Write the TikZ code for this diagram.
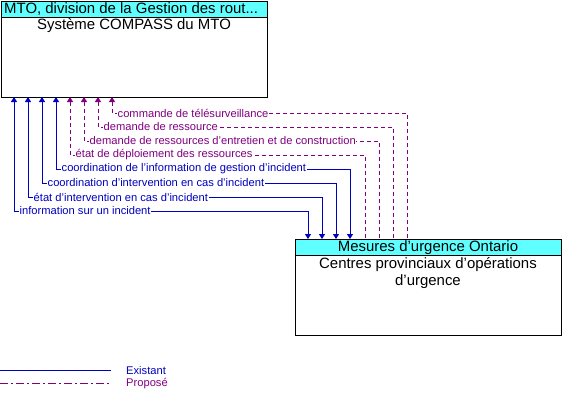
\documentclass[tikz,border=0pt]{standalone}
\usepackage{fontspec}
\setmainfont{Liberation Sans}
\usetikzlibrary{arrows.meta,calc}
\definecolor{exblue}{RGB}{0,0,192}
\definecolor{prpurple}{RGB}{128,0,128}
\definecolor{hdrcyan}{RGB}{96,255,255}
\begin{document}
\begin{tikzpicture}[x=1bp,y=-1bp,
 box/.style={draw=black,line width=1bp,fill=white,minimum width=266bp,minimum height=96bp,anchor=north west,inner sep=0pt,outer sep=0pt},
 hdr/.style={draw=black,line width=1bp,fill=hdrcyan,minimum width=266bp,minimum height=16bp,anchor=north west,inner sep=0pt,outer sep=0pt},
 boxtxt/.style={font=\fontsize{15}{17}\selectfont,align=center,inner sep=0pt},
 lbl/.style={font=\fontsize{11.2}{13}\selectfont,fill=white,inner sep=0.5bp,anchor=west},
 exist/.style={draw=exblue,line width=1bp,{Triangle[width=6bp,length=5bp]}-{Triangle[width=6bp,length=5bp]}},
 prop/.style={draw=prpurple,line width=1bp,dash pattern=on 4bp off 3bp,{Triangle[width=6bp,length=5bp]}-},
 legtxt/.style={font=\fontsize{11.2}{13}\selectfont,anchor=west,inner sep=0pt},
]
\useasboundingbox (0,0) rectangle (572,403);
% top box
\node[box] (mto) at (1,1) {};
\node[hdr] (mtoh) at (1,1) {};
\node[boxtxt,anchor=west] (mtoht) at (4,9.5) {MTO, division de la Gestion des rout...};
\node[boxtxt] (mtob) at (134,25.5) {Système COMPASS du MTO};
% bottom box
\node[box] (cpo) at (295,239) {};
\node[hdr] (cpoh) at (295,239) {};
\node[boxtxt] (cpoht) at (428,247.5) {Mesures d'urgence Ontario};
\node[boxtxt] (cpob) at (428,273) {Centres provinciaux d'opérations\\[0pt]d'urgence};
% connector end points
\foreach \i/\ax/\bx in {0/13/13,1/27/27,2/41/41,3/55/55,4/69/70,5/83/84,6/97/98,7/111/112}{
  \coordinate (a\i) at ($(mto.south west)+(\ax,0)$);
  \coordinate (b\i) at ($(cpo.north west)+(\bx,0)$);
}
% existing flows
\foreach \i/\yy/\t in {0/211/information sur un incident,
                       1/197/état d'intervention en cas d'incident,
                       2/183/coordination d'intervention en cas d'incident,
                       3/169/coordination de l'information de gestion d'incident}{
  \draw[exist] (a\i) -- (a\i |- 0,\yy) -| (b\i);
  \node[lbl,text=exblue] (l\i) at ($(a\i |- 0,\yy)+(5,0)$) {\t};
}
% proposed flows
\foreach \i/\yy/\t in {4/155/état de déploiement des ressources,
                       5/141/demande de ressources d'entretien et de construction,
                       6/127/demande de ressource,
                       7/113/commande de télésurveillance}{
  \draw[prop] (a\i) -- (a\i |- 0,\yy) -| (b\i);
  \node[lbl,text=prpurple] (l\i) at ($(a\i |- 0,\yy)+(5,0)$) {\t};
}
% legend
\coordinate (e1) at (0,370);
\coordinate (e2) at (111,370);
\coordinate (p1) at (0,383);
\coordinate (p2) at (111,383);
\draw[draw=exblue,line width=1bp] (e1) -- (e2);
\draw[draw=prpurple,line width=1bp,dash pattern=on 8bp off 3bp on 2bp off 3bp] (p1) -- (p2);
\node[legtxt,text=exblue] (ex) at (126,370.5) {Existant};
\node[legtxt,text=prpurple] (pr) at (126,383.5) {Proposé};
\end{tikzpicture}
\end{document}
